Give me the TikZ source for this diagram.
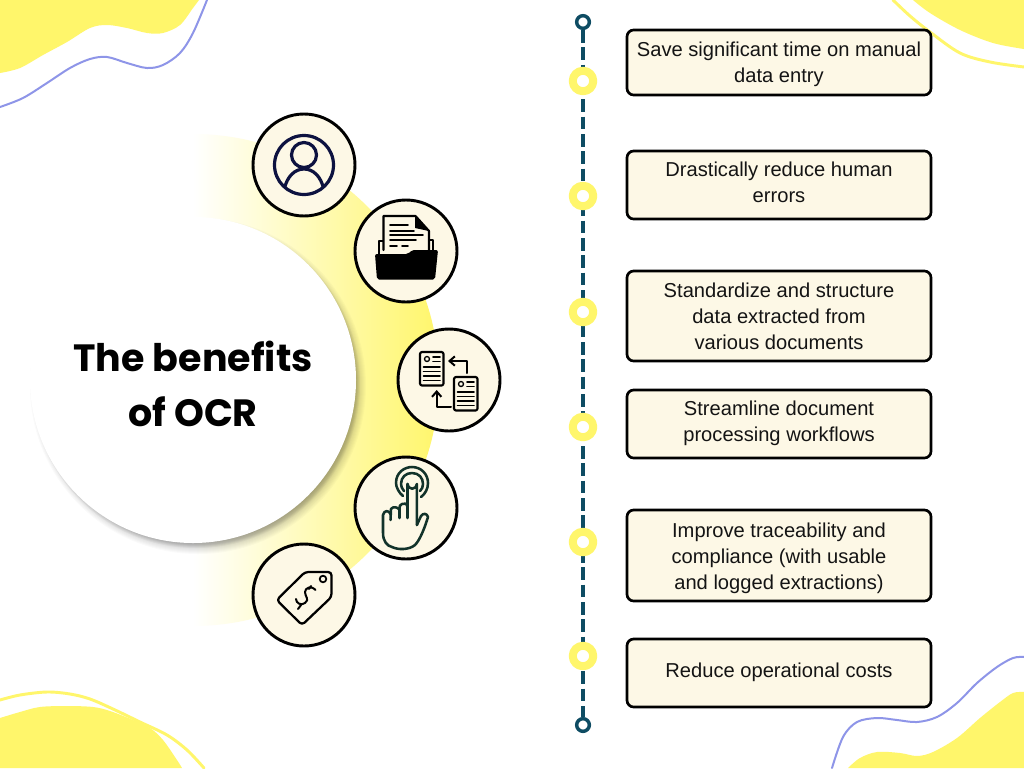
\documentclass[tikz,border=0pt]{standalone}
\usepackage{fontspec}
\setmainfont{Liberation Sans}
\newfontfamily\titlefont{Poppins}
\usetikzlibrary{arrows.meta}
\definecolor{ylw}{HTML}{FFF66B}
\definecolor{cream}{HTML}{FDF8E6}
\definecolor{teal1}{HTML}{0E4C63}
\definecolor{peri}{HTML}{8E95E8}
\definecolor{navy}{HTML}{0D1240}
\definecolor{hgreen}{HTML}{12332B}
\tikzset{
  x=0.75pt,y=-0.75pt,
  infobox/.style={draw=black,fill=cream,line width=2pt,rounded corners=5pt,minimum width=228pt,inner sep=0pt},
  infotext/.style={align=center,inner sep=0pt,font=\fontsize{15.1}{19.5}\selectfont,text=black!92},
  iconring/.style={circle,draw=black,fill=cream,line width=2.2pt,minimum size=76.5pt,inner sep=0pt},
  ydot/.style={circle,draw=ylw,fill=white,line width=6pt,minimum size=15.4pt,inner sep=0pt},
  enddot/.style={circle,draw=teal1,fill=white,line width=2.6pt,minimum size=9.5pt,inner sep=0pt},
  dashline/.style={draw=teal1,line width=3pt,line cap=butt,dash pattern=on 9.5pt off 3.5pt},
  curve/.style={draw=peri,line width=1.5pt},
  ycurve/.style={draw=ylw,line width=2.2pt},
  docline/.style={draw=black,line width=1.3pt},
  smoothplot/.style={smooth,tension=.55},
}
\begin{document}
\begin{tikzpicture}[line join=round,line cap=round]
\useasboundingbox (0,0) rectangle (1024,768);
\fill[white] (0,0) rectangle (1024,768);
% corners
\fill[ylw] plot[smoothplot] coordinates {(0,73) (20,68) (43,55) (67,42) (90,28) (107,25) (127,28) (147,33) (163,33) (180,25) (193,8) (199,0)} -- (0,0) -- cycle;
\draw[curve] plot[smoothplot] coordinates {(0,107) (23,98) (47,83) (70,68) (90,59) (107,57) (127,63) (147,68) (163,65) (180,53) (193,33) (207,0)};
\fill[ylw] plot[smoothplot] coordinates {(913,0) (930,13) (960,30) (993,43) (1024,49)} -- (1024,0) -- cycle;
\draw[ycurve] plot[smoothplot] coordinates {(893,0) (910,16) (930,32) (960,53) (990,62) (1024,67)};
\fill[ylw] plot[smoothplot] coordinates {(0,718) (20,712) (40,707) (67,706) (93,707) (110,711) (133,720) (150,728) (163,740) (177,760) (182,768)} -- (0,768) -- cycle;
\draw[ycurve] plot[smoothplot] coordinates {(0,700) (20,695) (47,692) (70,694) (90,699) (113,709) (140,722) (167,735) (187,750) (204,768)};
\fill[ylw] plot[smoothplot] coordinates {(848,768) (860,758) (877,752) (900,753) (917,756) (933,752) (957,738) (980,718) (1000,702) (1013,693) (1024,692)} -- (1024,768) -- cycle;
\draw[curve] plot[smoothplot] coordinates {(832,768) (843,737) (857,722) (877,718) (897,720) (917,722) (937,717) (957,703) (977,683) (997,667) (1013,658) (1024,657)};
% gradient ring
\shade[left color=white,right color=ylw] (193,134) arc[start angle=-90,end angle=90,radius=246] -- cycle;
% soft shadow of the central disc
\foreach \r in {0,1,...,9}{
  \fill[black,opacity=0.018] (198,386) circle ({168-\r});
}
\foreach \r in {0,1,...,5}{
  \fill[black,opacity=0.03] (196,384) circle ({164-\r});
}
\node[circle,fill=white,minimum size=244.5pt,inner sep=0pt] (hub) at (193,380) {};
\node[font=\titlefont\bfseries\fontsize{28.5}{41}\selectfont,align=center,text=black] (title) at (193,384) {The benefits\\of OCR};
% icon rings
\node[iconring] (c1) at (304,165) {};
\node[iconring] (c2) at (406,251) {};
\node[iconring] (c3) at (449,380) {};
\node[iconring] (c4) at (406,508) {};
\node[iconring] (c5) at (304,595) {};
% user icon
\begin{scope}
\clip (304,165) circle (30);
\draw[navy,line width=2.4pt] (304,155) circle (12.5);
\draw[navy,line width=2.4pt] (284,190) .. controls (287,176) and (295,169) .. (304,169) .. controls (313,169) and (321,176) .. (324,190);
\end{scope}
\draw[navy,line width=2.4pt] (304,165) circle (29.5);
% folder icon
\draw[black,line width=1.1pt] (379,254) -- (379,241) -- (383,241);
\draw[black,line width=1.1pt] (433,254) -- (433,240) -- (429,240);
\draw[black,line width=1.6pt,fill=cream] (383.5,250) -- (383.5,216) -- (415.5,216) -- (429,231) -- (429,250);
\fill[black] (415,216) -- (429,231) -- (415,228) -- cycle;
\draw[docline] (390,225) -- (408,225) (390,231) -- (414,231) (390,235) -- (423,235) (390,240) -- (416,240) (390,246) -- (397,246) (402,246) -- (408,246);
\fill[black,rounded corners=1.5pt] (375,254) -- (408,254) -- (412,250) -- (438,250) -- (435,279.5) -- (377,279.5) -- cycle;
% exchange icon
\foreach \ox/\oy in {420/352,454/377}{
  \begin{scope}[shift={(\ox,\oy)}]
  \draw[black,line width=1.6pt,rounded corners=1.5pt] (0,0) rectangle (23.5,33.5);
  \draw[black,line width=1pt] (7,7) circle (2.5);
  \draw[docline] (13,5) -- (20,5) (13,9.5) -- (20,9.5) (3.5,15) -- (20,15) (3.5,19.5) -- (20,19.5) (3.5,24) -- (20,24) (3.5,28.5) -- (20,28.5);
  \end{scope}
}
\draw[black,line width=1.5pt,-{Straight Barb[length=4pt,width=7pt]}] (466.7,373) -- (466.7,361) -- (448,361);
\draw[black,line width=1.5pt,-{Straight Barb[length=4pt,width=7pt]}] (451,406.7) -- (436.7,406.7) -- (436.7,390);
% hand icon
\begin{scope}[draw=hgreen,line width=1.9pt]
\draw (407.5,484) arc[start angle=180,end angle=0,radius=4.7] -- (416.9,525);
\draw (407.5,484) -- (407.5,518);
\draw (403,496) .. controls (399,493) and (396,487) .. (396,483) .. controls (396,472) and (405,467) .. (412,467) .. controls (421,467) and (428,474) .. (428,483) .. controls (428,489) and (425,494) .. (421,497);
\draw (404,491) .. controls (402,489) and (401,486) .. (401,484) .. controls (401,477) and (406,473) .. (412,473) .. controls (419,473) and (423,478) .. (423,484) .. controls (423,487) and (422,489) .. (420,491);
\draw (407.5,507) .. controls (407,503) and (404,503) .. (402,504) .. controls (400,505) and (399.5,506) .. (399.5,508) -- (399.5,518);
\draw (399.5,510) .. controls (398,507) and (393,506) .. (391,509) -- (390.5,520);
\draw (390.5,514) .. controls (389,510) and (384,510) .. (383,515) -- (383,533) .. controls (383,541) and (387,546) .. (392,547) .. controls (398,550) and (409,550) .. (415,545) .. controls (420,540) and (425,527) .. (428,517) .. controls (427,513) and (423,513) .. (421,516) -- (416.9,525);
\end{scope}
% tag icon
\draw[black,line width=1.7pt,rounded corners=2.5pt] (276.7,600) -- (305,572) -- (331.5,572) -- (331.5,597) -- (302,625) -- cycle;
\draw[black,line width=1.3pt] (323,579) circle (3.3);
\draw[black,line width=1.5pt] (315.5,590) .. controls (311,585) and (305,588) .. (305,592) .. controls (305,597) and (310,599) .. (305,603) .. controls (301,606) and (296,603) .. (296,599);
\draw[black,line width=1.5pt] (298,609) -- (301,605) (309,589) -- (311,586);
% timeline
\node[enddot] (top) at (583,22) {};
\node[enddot] (bot) at (583,725) {};
\draw[dashline] (top) -- (bot);
\node[ydot] (d1) at (583,81) {};
\node[ydot] (d2) at (583,196) {};
\node[ydot] (d3) at (583,312) {};
\node[ydot] (d4) at (583,427) {};
\node[ydot] (d5) at (583,542) {};
\node[ydot] (d6) at (583,656) {};
% boxes
\node[infobox,minimum height=48.75pt] (b1) at (779,62.5) {};
\node[infobox,minimum height=51pt] (b2) at (779,185) {};
\node[infobox,minimum height=67.5pt] (b3) at (779,316) {};
\node[infobox,minimum height=51pt] (b4) at (779,424) {};
\node[infobox,minimum height=68.25pt] (b5) at (779,555.5) {};
\node[infobox,minimum height=51pt] (b6) at (779,673) {};
\node[infotext] (t1) at (779,64) {Save significant time on manual\\data entry};
\node[infotext] (t2) at (779,182.5) {Drastically reduce human\\errors};
\node[infotext] (t3) at (779,316.5) {Standardize and structure\\data extracted from\\various documents};
\node[infotext] (t4) at (779,423.5) {Streamline document\\processing workflows};
\node[infotext] (t5) at (779,558) {Improve traceability and\\compliance (with usable\\and logged extractions)};
\node[infotext] (t6) at (779,672) {Reduce operational costs};
\end{tikzpicture}
\end{document}
